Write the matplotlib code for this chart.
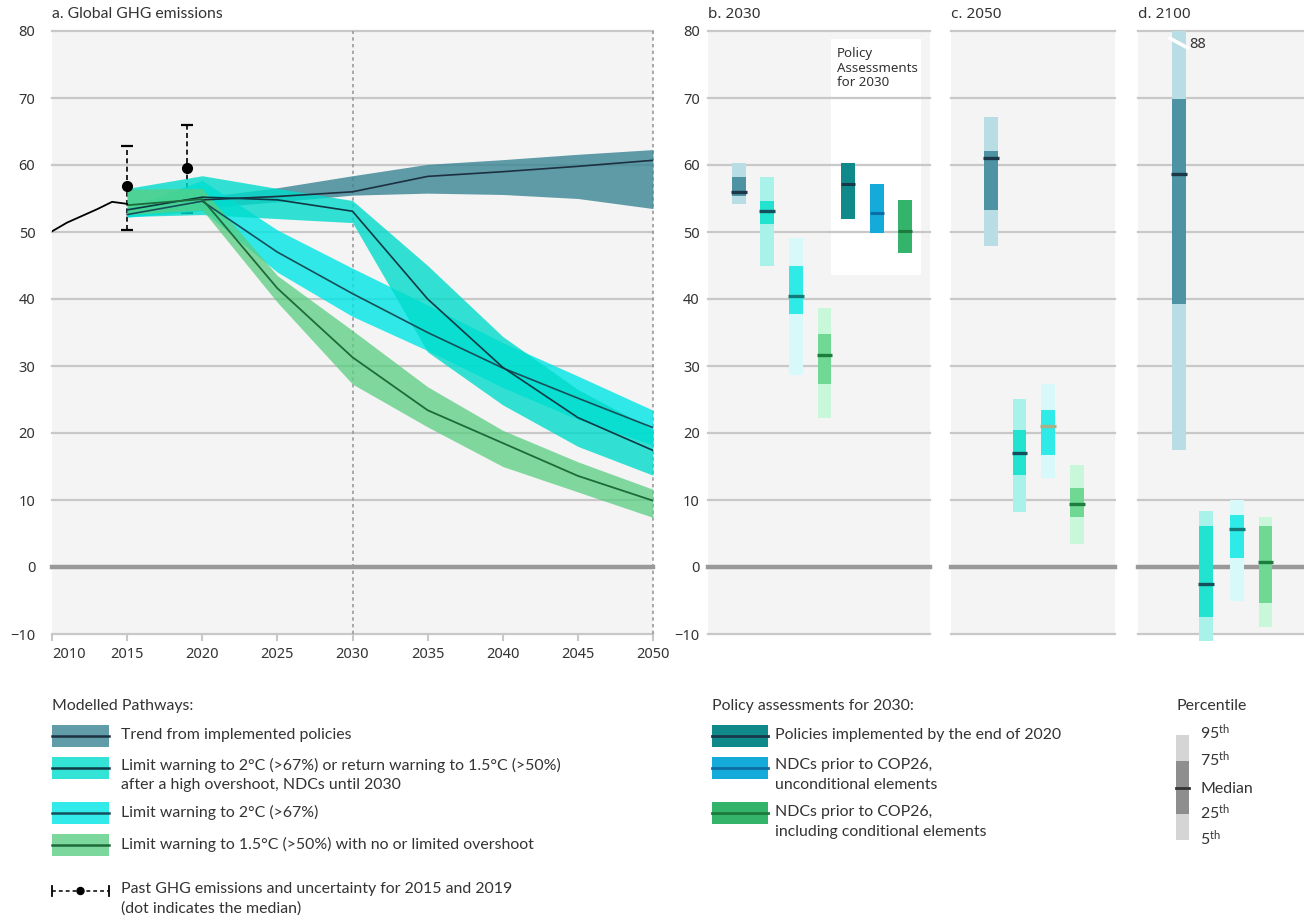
import matplotlib
matplotlib.use("Agg")
import matplotlib.pyplot as plt
from matplotlib.patches import Rectangle, Circle

plt.rcParams['font.family'] = ['Lato', 'DejaVu Sans']
plt.rcParams['mathtext.fontset'] = 'custom'
plt.rcParams['mathtext.rm'] = 'Lato'
plt.rcParams['mathtext.it'] = 'Lato:italic'
plt.rcParams['mathtext.bf'] = 'Lato:bold'

TXT = '#333333'
TICKFONT = ['Noto Sans', 'DejaVu Sans']

# ---------------- panel a data ----------------
hist_years = [2010, 2011, 2012, 2013, 2014, 2015]
hist_vals = [50.1, 51.4, 52.4, 53.4, 54.5, 54.2]

past_years = [2015, 2019]
past_med = [56.8, 59.6]
past_low = [50.3, 52.9]
past_high = [62.9, 66.0]

years = [2015, 2020, 2025, 2030, 2035, 2040, 2045, 2050]
trend_years = [2020, 2025, 2030, 2035, 2040, 2045, 2050]
trend_med = [54.8, 55.3, 56.0, 58.3, 59.0, 59.8, 60.7]
trend_lo = [53.6, 54.5, 55.5, 55.8, 55.6, 55.0, 53.5]
trend_hi = [55.2, 56.6, 58.4, 60.1, 60.8, 61.6, 62.3]

ndc_med = [53.3, 55.2, 54.8, 53.1, 40.0, 29.8, 22.3, 17.4]
ndc_lo = [52.3, 52.6, 52.0, 51.4, 32.1, 24.2, 18.0, 13.7]
ndc_hi = [56.5, 58.4, 56.5, 54.7, 45.0, 34.4, 26.5, 20.5]

c2_med = [52.6, 54.6, 47.0, 40.8, 35.0, 29.7, 25.2, 20.8]
c2_lo = [52.2, 53.2, 44.0, 37.4, 32.3, 26.8, 22.0, 18.2]
c2_hi = [53.6, 57.7, 50.3, 44.6, 39.1, 33.5, 28.5, 23.4]

c15_med = [54.0, 54.9, 41.6, 31.3, 23.4, 18.5, 13.6, 9.9]
c15_lo = [52.6, 53.3, 39.5, 27.3, 20.9, 15.0, 11.2, 7.4]
c15_hi = [56.4, 56.5, 43.5, 35.3, 26.9, 20.4, 15.7, 11.6]

# ---------------- panels b, c, d data ----------------
# order: trend, 2C/return NDCs, 2C, 1.5C
p5_2030 = [54.2, 44.9, 28.6, 22.3]
p25_2030 = [55.4, 51.2, 37.7, 27.3]
med_2030 = [56.0, 53.2, 40.5, 31.6]
p75_2030 = [58.2, 54.6, 44.9, 34.8]
p95_2030 = [60.3, 58.2, 49.1, 38.6]

p5_2050 = [47.9, 8.2, 13.3, 3.4]
p25_2050 = [53.3, 13.8, 16.7, 7.5]
med_2050 = [61.0, 17.0, 21.0, 9.4]
p75_2050 = [62.1, 20.5, 23.5, 11.8]
p95_2050 = [67.1, 25.0, 27.3, 15.2]

p5_2100 = [17.5, -11.1, -5.0, -8.9]
p25_2100 = [39.3, -7.4, 1.4, -5.4]
med_2100 = [58.6, -2.5, 5.6, 0.7]
p75_2100 = [69.9, 6.1, 7.8, 6.1]
p95_2100 = [88, 8.4, 10.0, 7.4]

# policy assessments 2030: implemented, NDC unconditional, NDC conditional
pol_lo = [52.0, 49.9, 46.9]
pol_med = [57.1, 52.9, 50.1]
pol_hi = [60.3, 57.2, 54.8]

# colours
band_cols = ['#3a8494', '#00dccb', '#00e5e5', '#5ace82']
line_cols = ['#1c3040', '#0d3a45', '#15505a', '#1d6b3a']
light_cols = ['#b8dde5', '#a8f2ea', '#d8f9f9', '#c8f7d9']
dark_cols = ['#4d93a3', '#22e3d0', '#2eebe7', '#6fd993']
med_cols = ['#1b3646', '#15505a', '#147a78', '#1d7d3d']
pol_cols = ['#10898b', '#14aad9', '#33b46a']
pol_med_cols = ['#173848', '#0d6ea5', '#1c7a3c']

W, H = 1304, 917
fig = plt.figure(figsize=(W / 100, H / 100), dpi=100)


def px_axes(x0, x1, y0, y1):
    return fig.add_axes([x0 / W, 1 - y1 / H, (x1 - x0) / W, (y1 - y0) / H])


def base_style(ax, show_labels):
    ax.set_facecolor('#f4f4f4')
    ax.set_ylim(-10, 80)
    for s in ax.spines.values():
        s.set_visible(False)
    ax.set_yticks(range(-10, 81, 10))
    for v in range(-10, 81, 10):
        if v == 0:
            ax.axhline(v, color='#999999', lw=3.2, zorder=2, clip_on=False)
        else:
            ax.axhline(v, color='#c8c8c8', lw=1.6, zorder=2, clip_on=False)
    if show_labels:
        ax.tick_params(axis='y', length=0, labelsize=10.5, labelcolor=TXT)
        for lab in ax.get_yticklabels():
            lab.set_family(TICKFONT)
    else:
        ax.tick_params(axis='y', length=0, labelleft=False)


# ---------------- panel a ----------------
ax = px_axes(52, 653, 31, 634)
base_style(ax, True)
ax.tick_params(axis='y', pad=12)
ax.set_xlim(2010, 2050)
ax.set_xticks(range(2010, 2051, 5))
ax.tick_params(axis='x', length=5, width=1.5, color='#c8c8c8', labelsize=10.5,
               labelcolor=TXT, pad=4)
for lab in ax.get_xticklabels():
    lab.set_family(TICKFONT)
ax.get_xticklabels()[0].set_ha('left')
ax.axvline(2030, color='#9a9a9a', lw=1.2, ls=(0, (2, 2)), zorder=2)
ax.axvline(2050, color='#9a9a9a', lw=1.2, ls=(0, (2, 2)), zorder=2, clip_on=False)

# past emissions uncertainty (below bands)
eb = ax.errorbar(past_years, past_med,
                 yerr=[[m - l for m, l in zip(past_med, past_low)],
                       [h - m for m, h in zip(past_med, past_high)]],
                 fmt='none', ecolor='black', elinewidth=1.2, capsize=4,
                 capthick=1.6, zorder=3)
eb[2][0].set_linestyle((0, (3, 2)))

ax.fill_between(trend_years, trend_lo, trend_hi, color=band_cols[0], alpha=0.8,
                lw=0, zorder=4)
ax.fill_between(years, c2_lo, c2_hi, color=band_cols[2], alpha=0.8, lw=0, zorder=5)
ax.fill_between(years, ndc_lo, ndc_hi, color=band_cols[1], alpha=0.8, lw=0, zorder=6)
ax.fill_between(years, c15_lo, c15_hi, color=band_cols[3], alpha=0.75, lw=0, zorder=7)

ax.plot(trend_years, trend_med, color=line_cols[0], lw=1.2, zorder=8)
ax.plot(years, c2_med, color=line_cols[2], lw=1.2, zorder=8)
ax.plot(years, ndc_med, color=line_cols[1], lw=1.2, zorder=8)
ax.plot(years, c15_med, color=line_cols[3], lw=1.3, zorder=8)
ax.plot(hist_years, hist_vals, color='black', lw=1.3, zorder=9)
ax.plot(past_years, past_med, 'o', color='black', ms=7, zorder=10)


def draw_box(ax, x, p5, p25, med, p75, p95, light, dark, mcol, w=0.48, ytop=80):
    ax.add_patch(Rectangle((x - w / 2, p5), w, min(p95, ytop) - p5, fc=light,
                           ec='none', zorder=3, clip_on=False))
    ax.add_patch(Rectangle((x - w / 2, p25), w, p75 - p25, fc=dark, ec='none',
                           zorder=4, clip_on=False))
    ax.plot([x - w / 2 - 0.03, x + w / 2 + 0.03], [med, med], color=mcol, lw=2.4,
            solid_capstyle='butt', zorder=5, clip_on=False)


# ---------------- panel b ----------------
axb = px_axes(708, 930, 31, 634)
base_style(axb, True)
axb.tick_params(axis='y', pad=6)
axb.set_xlim(0, 222 / 28.7)
axb.set_xticks([])
axb.add_patch(Rectangle((4.29, 43.6), 3.13, 35.2, fc='white', ec='none', zorder=1.5))
axb.text(4.49, 77.6, 'Policy\nAssessments\nfor 2030', va='top', ha='left',
         fontsize=9.6, color=TXT, family=TICKFONT, linespacing=1.15, zorder=6)
xb = [1.08, 2.06, 3.07, 4.06]
for i in range(4):
    draw_box(axb, xb[i], p5_2030[i], p25_2030[i], med_2030[i], p75_2030[i],
             p95_2030[i], light_cols[i], dark_cols[i], med_cols[i])
xp = [4.88, 5.89, 6.86]
for i in range(3):
    axb.add_patch(Rectangle((xp[i] - 0.24, pol_lo[i]), 0.48, pol_hi[i] - pol_lo[i],
                            fc=pol_cols[i], ec='none', zorder=4))
    axb.plot([xp[i] - 0.24, xp[i] + 0.24], [pol_med[i]] * 2, color=pol_med_cols[i],
             lw=2.2, solid_capstyle='butt', zorder=5)

# ---------------- panel c ----------------
axc = px_axes(951, 1115, 31, 634)
base_style(axc, False)
axc.set_xlim(0, 164 / 28.7)
axc.set_xticks([])
xc = [1.40, 2.39, 3.38, 4.39]
med_cols_2050 = [med_cols[0], med_cols[1], '#a8b08a', med_cols[3]]
for i in range(4):
    draw_box(axc, xc[i], p5_2050[i], p25_2050[i], med_2050[i], p75_2050[i],
             p95_2050[i], light_cols[i], dark_cols[i], med_cols_2050[i])

# ---------------- panel d ----------------
axd = px_axes(1138, 1304, 31, 634)
base_style(axd, False)
axd.set_xlim(0, 166 / 28.7)
axd.set_xticks([])
xd = [1.42, 2.37, 3.45, 4.44]
for i in range(4):
    draw_box(axd, xd[i], p5_2100[i], p25_2100[i], med_2100[i], p75_2100[i],
             p95_2100[i], light_cols[i], dark_cols[i], med_cols[i])
# axis break on the 95th percentile that exceeds the axis
axd.plot([xd[0] - 0.3, xd[0] + 0.3], [78.9, 77.5], color='white', lw=2.6,
         zorder=6, clip_on=False)
axd.text(xd[0] + 0.38, 78.0, f'{p95_2100[0]:g}', va='center', ha='left',
         fontsize=10.5, color=TXT, family=TICKFONT, zorder=6)

# ---------------- titles & legends (pixel overlay) ----------------
lax = fig.add_axes([0, 0, 1, 1], facecolor='none')
lax.set_xlim(0, W)
lax.set_ylim(H, 0)
lax.axis('off')

lax.text(52, 14, 'a. Global GHG emissions', va='center', ha='left', fontsize=11.3,
         color=TXT)
for x0, t in [(708, 'b. 2030'), (951, 'c. 2050'), (1138, 'd. 2100')]:
    lax.text(x0, 14, t, va='center', ha='left', fontsize=11, color=TXT,
             family=TICKFONT)

FS = 11.4


def legend_text(x, y, lab):
    # one text per line, 20 px apart
    for j, line in enumerate(lab.split('\n')):
        lax.text(x, y + 20 * j, line, va='center', ha='left', fontsize=FS, color=TXT)


lax.text(52, 706, 'Modelled Pathways:', va='center', ha='left', fontsize=FS, color=TXT)
path_labels = ['Trend from implemented policies',
               'Limit warning to 2°C (>67%) or return warning to 1.5°C (>50%)\n'
               'after a high overshoot, NDCs until 2030',
               'Limit warning to 2°C (>67%)',
               'Limit warning to 1.5°C (>50%) with no or limited overshoot']
sw_y = [736, 768, 813, 845]
txt_y = [735, 765, 812, 844]
for k, (yc, ty, lab) in enumerate(zip(sw_y, txt_y, path_labels)):
    lax.add_patch(Rectangle((52, yc - 11), 57, 22, fc=band_cols[k], alpha=0.8,
                            ec='none'))
    lax.plot([52, 109], [yc, yc], color=line_cols[k], lw=1.8)
    legend_text(121, ty, lab)

# past GHG symbol
py = 891
lax.plot([52, 109], [py, py], color='black', lw=1.1, ls=(0, (2.5, 2)))
lax.plot([52, 52], [py - 5, py + 5], color='black', lw=1.3)
lax.plot([109, 109], [py - 5, py + 5], color='black', lw=1.3)
lax.add_patch(Circle((80.5, py), 3.5, color='black'))
legend_text(121, 889, 'Past GHG emissions and uncertainty for 2015 and 2019\n'
            '(dot indicates the median)')

# policy legend
lax.text(712, 706, 'Policy assessments for 2030:', va='center', ha='left',
         fontsize=FS, color=TXT)
pol_labels = ['Policies implemented by the end of 2020',
              'NDCs prior to COP26,\nunconditional elements',
              'NDCs prior to COP26,\nincluding conditional elements']
for i, (yc, ty, lab) in enumerate(zip([736, 768, 813], [735, 765, 812], pol_labels)):
    lax.add_patch(Rectangle((712, yc - 11), 56, 22, fc=pol_cols[i], ec='none'))
    lax.plot([712, 768], [yc, yc], color=pol_med_cols[i], lw=2)
    legend_text(775, ty, lab)

# percentile legend
lax.text(1176, 706, 'Percentile', va='center', ha='left', fontsize=FS, color=TXT)
lax.add_patch(Rectangle((1176, 735), 13, 105, fc='#d5d5d5', ec='none'))
lax.add_patch(Rectangle((1176, 761), 13, 53, fc='#8e8e8e', ec='none'))
lax.plot([1176, 1189], [788, 788], color='#333333', lw=2)
for yy, t in [(732, '95$^{\\rm th}$'), (759, '75$^{\\rm th}$'), (789, 'Median'),
              (812, '25$^{\\rm th}$'), (838, '5$^{\\rm th}$')]:
    lax.text(1200, yy, t, va='center', ha='left', fontsize=FS, color=TXT)

fig.savefig('out.png', dpi=100, facecolor='white')
